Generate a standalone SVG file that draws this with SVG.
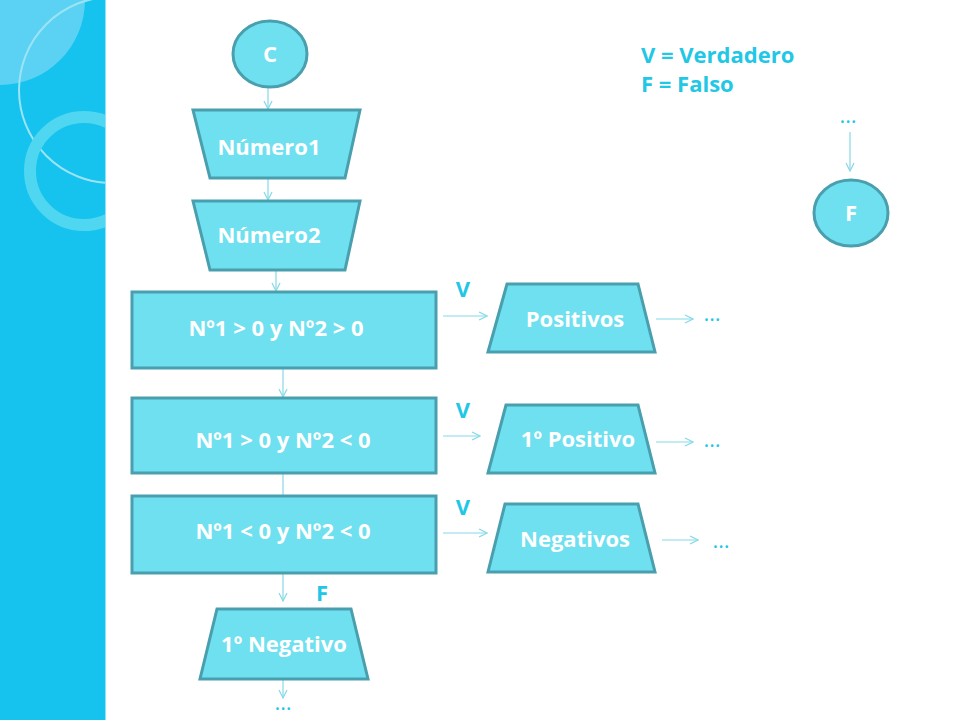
<svg xmlns="http://www.w3.org/2000/svg" width="960" height="720" viewBox="0 0 960 720">
<defs>
<style>
.node{fill:#6fe0ef;stroke:#4a9fae;stroke-width:3}
.txt{font-family:"Open Sans",Lato,"Liberation Sans",sans-serif;font-weight:bold;font-size:22px;fill:#ffffff;text-anchor:middle}
.lbl{font-family:"Open Sans",Lato,"Liberation Sans",sans-serif;font-weight:bold;font-size:22px;fill:#22c7e6;text-anchor:middle}
.leg{font-family:"Open Sans",Lato,"Liberation Sans",sans-serif;font-weight:bold;font-size:22px;fill:#22c7e6}
.dots{font-family:"Open Sans",Lato,"Liberation Sans",sans-serif;font-size:22px;fill:#22c7e6;text-anchor:middle}
.con{stroke:#86d9e8;stroke-width:1.2;fill:none}
</style>
<marker id="arr" viewBox="0 0 10 10" refX="9" refY="5" markerWidth="10" markerHeight="10" markerUnits="userSpaceOnUse" orient="auto">
<path d="M1,1 L9,5 L1,9" fill="none" stroke="#86d9e8" stroke-width="1.2"/>
</marker>
<clipPath id="panel"><rect x="0" y="0" width="105" height="720"/></clipPath>
</defs>
<rect width="960" height="720" fill="#ffffff"/>
<g id="background" clip-path="url(#panel)">
<rect x="0" y="0" width="105" height="720" fill="#16c2ee"/>
<path d="M0,0 H85 A85,85 0 0 1 0,85 Z" fill="#5bd2f3"/>
<circle cx="112" cy="90" r="93" fill="none" stroke="#9be4f6" stroke-width="2"/>
<circle cx="84" cy="171" r="54" fill="none" stroke="#4fd6f0" stroke-width="12"/>
</g>
<line x1="105.5" y1="0" x2="105.5" y2="720" stroke="#8fe2f7" stroke-width="1"/>

<g id="connectors">
<line class="con" x1="268" y1="88" x2="268" y2="109" marker-end="url(#arr)"/>
<line class="con" x1="268" y1="178" x2="268" y2="200" marker-end="url(#arr)"/>
<line class="con" x1="276" y1="270" x2="276" y2="291" marker-end="url(#arr)"/>
<line class="con" x1="283" y1="368" x2="283" y2="397" marker-end="url(#arr)"/>
<line class="con" x1="283" y1="473" x2="283" y2="496"/>
<line class="con" x1="283" y1="573" x2="283" y2="601" marker-end="url(#arr)"/>
<line class="con" x1="283" y1="680" x2="283" y2="698" marker-end="url(#arr)"/>
<line class="con" x1="443" y1="316" x2="487" y2="316" marker-end="url(#arr)"/>
<line class="con" x1="443" y1="436" x2="480" y2="436" marker-end="url(#arr)"/>
<line class="con" x1="443" y1="533" x2="487" y2="533" marker-end="url(#arr)"/>
<line class="con" x1="656" y1="319" x2="693" y2="319" marker-end="url(#arr)"/>
<line class="con" x1="656" y1="442" x2="693" y2="442" marker-end="url(#arr)"/>
<line class="con" x1="662" y1="540" x2="698" y2="540" marker-end="url(#arr)"/>
<line class="con" x1="850" y1="132" x2="850" y2="171" marker-end="url(#arr)"/>
</g>

<g id="node-c">
<ellipse class="node" cx="270" cy="54" rx="37" ry="33"/>
<text class="txt" x="270" y="62">C</text>
</g>
<g id="node-numero1">
<polygon class="node" points="193,110 360,110 345,178 210,178"/>
<text class="txt" x="269" y="155">Número1</text>
</g>
<g id="node-numero2">
<polygon class="node" points="193,201 360,201 345,270 210,270"/>
<text class="txt" x="269" y="243">Número2</text>
</g>
<g id="node-cond1">
<rect class="node" x="132" y="292" width="304" height="76"/>
<text class="txt" x="276" y="336">Nº1 &gt; 0 y Nº2 &gt; 0</text>
</g>
<g id="node-cond2">
<rect class="node" x="132" y="398" width="304" height="75"/>
<text class="txt" x="283" y="448">Nº1 &gt; 0 y Nº2 &lt; 0</text>
</g>
<g id="node-cond3">
<rect class="node" x="132" y="496" width="304" height="77"/>
<text class="txt" x="283" y="539">Nº1 &lt; 0 y Nº2 &lt; 0</text>
</g>
<g id="node-1negativo">
<polygon class="node" points="217,609 351,609 368,679 200,679"/>
<text class="txt" x="284" y="652">1º Negativo</text>
</g>
<g id="node-positivos">
<polygon class="node" points="507,284 638,284 655,352 488,352"/>
<text class="txt" x="575" y="327">Positivos</text>
</g>
<g id="node-1positivo">
<polygon class="node" points="506,405 638,405 655,473 488,473"/>
<text class="txt" x="578" y="447">1º Positivo</text>
</g>
<g id="node-negativos">
<polygon class="node" points="505,504 638,504 655,572 488,572"/>
<text class="txt" x="575" y="547">Negativos</text>
</g>
<g id="node-f">
<ellipse class="node" cx="851" cy="213" rx="37" ry="33"/>
<text class="txt" x="851" y="221">F</text>
</g>

<g id="labels">
<text class="lbl" x="463" y="297">V</text>
<text class="lbl" x="463" y="418">V</text>
<text class="lbl" x="463" y="515">V</text>
<text class="lbl" x="322" y="601">F</text>
<text class="dots" x="712" y="321">…</text>
<text class="dots" x="712" y="447">…</text>
<text class="dots" x="721" y="548">…</text>
<text class="dots" x="848" y="123">…</text>
<text class="dots" x="283" y="710">…</text>
<text class="leg" x="641" y="63">V = Verdadero</text>
<text class="leg" x="641" y="92">F = Falso</text>
</g>
</svg>
